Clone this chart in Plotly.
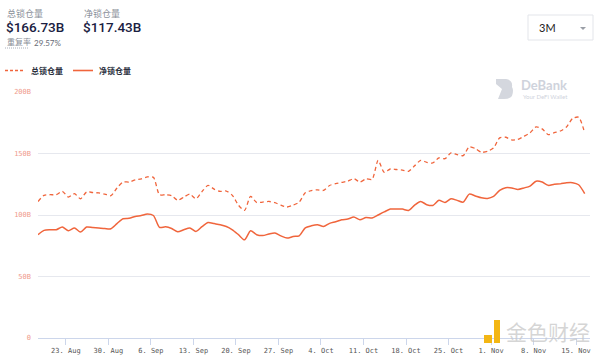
import pandas as pd
import plotly.graph_objects as go

# ---- data (billions USD), daily, 3M window ----
dates = pd.date_range("2021-08-18 10:00", periods=91, freq="D")

total_tvl = [111.0, 116.0, 116.5, 116.5, 119.2, 114.6, 117.3, 113.2, 118.7, 118.3,
             117.9, 117.0, 115.7, 122.0, 126.8, 126.8, 128.5, 129.3, 131.0, 130.6,
             116.5, 116.5, 115.7, 112.0, 114.5, 117.0, 113.2, 119.0, 124.1, 121.0,
             119.2, 119.5, 116.0, 108.0, 103.7, 115.1, 110.2, 110.5, 111.0, 110.0,
             108.0, 106.5, 108.0, 110.5, 118.0, 119.8, 120.5, 120.0, 124.0, 125.5,
             126.5, 127.5, 129.5, 126.8, 129.3, 129.0, 144.4, 134.7, 137.4, 137.0,
             136.5, 135.5, 140.0, 144.4, 142.8, 142.3, 146.4, 145.8, 150.5, 149.0,
             148.3, 155.4, 154.0, 151.0, 151.8, 154.5, 162.7, 163.2, 161.0, 161.5,
             164.0, 166.8, 171.6, 170.0, 165.4, 167.0, 168.3, 171.5, 178.5, 179.5,
             166.73]

net_tvl = [83.9, 87.5, 88.0, 88.0, 90.2, 87.2, 89.4, 86.1, 90.2, 89.8,
           89.4, 89.0, 88.8, 93.0, 97.0, 97.3, 98.8, 99.6, 100.8, 99.6,
           89.9, 90.4, 89.0, 86.3, 88.0, 89.4, 86.6, 90.5, 93.9, 93.0,
           92.1, 90.7, 88.0, 84.0, 79.8, 87.2, 84.0, 83.3, 84.5, 85.3,
           83.0, 81.2, 82.5, 83.1, 89.5, 91.2, 92.1, 90.7, 93.2, 94.5,
           96.1, 96.7, 98.3, 96.1, 98.0, 97.5, 100.0, 102.5, 104.8, 104.8,
           104.8, 103.7, 108.0, 111.0, 108.4, 107.8, 111.9, 110.2, 113.2, 111.9,
           110.5, 117.0, 115.5, 114.0, 113.5, 115.1, 120.0, 122.2, 122.0, 120.8,
           122.0, 123.5, 127.5, 126.8, 124.1, 125.0, 125.3, 126.2, 126.3, 124.6,
           117.43]

series_names = ["总锁仓量", "净锁仓量"]
y_tickvals = [0, 50, 100, 150, 200]
y_ticktext = ["0", "50B", "100B", "150B", "200B"]

LINE = "#f0653c"
W, H = 600, 356
ML, MR, MT, MB = 38, 10, 92, 18
PW, PH = W - ML - MR, H - MT - MB


def ppx(x):
    """page pixel x -> paper coordinate"""
    return (x - ML) / PW


def ppy(y):
    """page pixel y (from top) -> paper coordinate"""
    return (H - MB - y) / PH


fig = go.Figure()
fig.add_trace(go.Scatter(x=dates, y=total_tvl, name=series_names[0], mode="lines",
                         line=dict(color=LINE, width=1.3, dash="4px,3px", shape="spline", smoothing=0.7),
                         showlegend=False))
fig.add_trace(go.Scatter(x=dates, y=net_tvl, name=series_names[1], mode="lines",
                         line=dict(color=LINE, width=1.5, shape="spline", smoothing=0.7),
                         showlegend=False))

CJK = "Noto Sans CJK SC"
ann = [
    dict(text="总锁仓量", x=5, y=13, font=dict(family=CJK, size=9, color="#8a8f99")),
    dict(text="$166.73B", x=4, y=27, font=dict(family="Roboto", size=13.5, color="#192041", weight=500)),
    dict(text="净锁仓量", x=82, y=13, font=dict(family=CJK, size=9, color="#8a8f99")),
    dict(text="$117.43B", x=81, y=27, font=dict(family="Roboto", size=13.5, color="#192041", weight=500)),
    dict(text="重复率", x=5, y=42, font=dict(family=CJK, size=8, color="#8a8f99")),
    dict(text="29.57%", x=32, y=42.5, font=dict(family="Lato", size=8, color="#666b75")),
    dict(text="<b>总锁仓量</b>", x=29, y=70, font=dict(family=CJK, size=8, color="#2a2f3d")),
    dict(text="<b>净锁仓量</b>", x=97, y=70, font=dict(family=CJK, size=8, color="#2a2f3d")),
    dict(text="3M", x=537, y=28, font=dict(family="Lato", size=11, color="#222")),
    dict(text="<b>DeBank</b>", x=519, y=85, font=dict(family="Lato", size=13, color="#cfd3dc")),
    dict(text="Your DeFi Wallet", x=521, y=96.5, font=dict(family="Lato", size=6, color="#cfd3dc")),
    dict(text="金色财经", x=504, y=331, font=dict(family=CJK, size=21, color="rgba(200,200,200,0.75)")),
]
for a in ann:
    a["x"] = ppx(a["x"])
    a["y"] = ppy(a["y"])
    a.update(xref="paper", yref="paper", xanchor="left", yanchor="middle", showarrow=False)

shapes = [
    # dotted underline under 重复率
    dict(type="line", x0=ppx(5), x1=ppx(29), y0=ppy(48), y1=ppy(48),
         line=dict(color="#aab0bb", width=1, dash="1px,1px")),
    # legend samples
    dict(type="line", x0=ppx(5), x1=ppx(24), y0=ppy(70.5), y1=ppy(70.5),
         line=dict(color=LINE, width=1.4, dash="3px,2px")),
    dict(type="line", x0=ppx(73), x1=ppx(93), y0=ppy(70.5), y1=ppy(70.5),
         line=dict(color=LINE, width=1.6)),
    # dropdown
    dict(type="rect", x0=ppx(528), x1=ppx(593), y0=ppy(40), y1=ppy(15),
         line=dict(color="#e3e5ea", width=1), fillcolor="white"),
    dict(type="path", path=f"M {ppx(580)} {ppy(27)} L {ppx(586)} {ppy(27)} L {ppx(583)} {ppy(30)} Z",
         line=dict(width=0), fillcolor="#9a9ea6"),
    # DeBank logo (stylised)
    dict(type="path",
         path=(f"M {ppx(496)} {ppy(79)} L {ppx(506)} {ppy(79)} Q {ppx(513)} {ppy(80)} {ppx(512)} {ppy(87)} "
               f"Q {ppx(514)} {ppy(90)} {ppx(512)} {ppy(96)} Q {ppx(510)} {ppy(99)} {ppx(504)} {ppy(99)} "
               f"L {ppx(498)} {ppy(99)} L {ppx(502)} {ppy(89)} L {ppx(496)} {ppy(84)} Z"),
         line=dict(width=0), fillcolor="#d4d7de"),
    # 金色财经 logo
    dict(type="rect", x0=ppx(484), x1=ppx(492), y0=ppy(343), y1=ppy(335),
         line=dict(width=0), fillcolor="#f3b614"),
    dict(type="rect", x0=ppx(494), x1=ppx(500), y0=ppy(343), y1=ppy(320),
         line=dict(width=0), fillcolor="#f3b614"),
]
for s in shapes:
    s.update(xref="paper", yref="paper")

fig.update_layout(
    template="none",
    width=W, height=H,
    margin=dict(l=ML, r=MR, t=MT, b=MB, pad=0, autoexpand=False),
    paper_bgcolor="white", plot_bgcolor="white",
    shapes=shapes, annotations=ann,
    showlegend=False,
    xaxis=dict(
        type="date", automargin=False,
        range=["2021-08-18 10:00", "2021-11-17 07:00"],
        tick0="2021-08-23", dtick=7 * 24 * 3600 * 1000,
        tickformat="%-d. %b",
        showgrid=False, zeroline=False,
        showline=True, linecolor="#ccd6eb", linewidth=1,
        ticks="outside", ticklen=6, tickcolor="#ccd6eb", tickwidth=1,
        tickfont=dict(family="DejaVu Sans Mono", size=7, color="#555"),
        fixedrange=True,
    ),
    yaxis=dict(
        automargin=False,
        range=[0, 200],
        tickvals=y_tickvals, ticktext=y_ticktext,
        showgrid=True, gridcolor="#e6e8ee", gridwidth=1,
        zeroline=False, showline=False, ticks="",
        ticklabelstandoff=6,
        tickfont=dict(family="DejaVu Sans Mono", size=7, color="#ef9a8c"),
        fixedrange=True,
    ),
)

fig.write_html("out.html", config={"displayModeBar": False},
               post_script="document.body.style.margin='0';document.body.style.padding='0';")
